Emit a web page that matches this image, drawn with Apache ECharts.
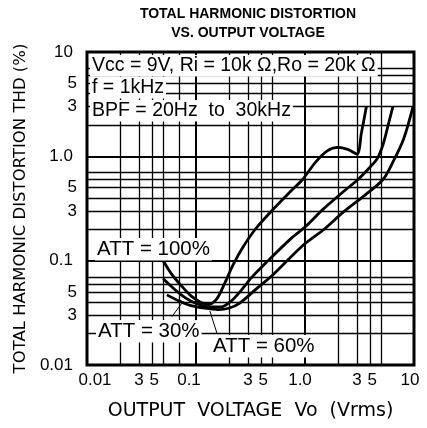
<!DOCTYPE html>
<html>
<head>
<meta charset="utf-8">
<script src="https://cdn.jsdelivr.net/npm/echarts@6/dist/echarts.min.js"></script>
<style>
  html, body { margin: 0; padding: 0; background: #fff; }
  #chart { width: 427px; height: 428px; }
</style>
</head>
<body>
<div id="chart"></div>
<script>
// tick labels (log-log, both axes 0.01 .. 10)
const xLabelValues = [0.01, 0.03, 0.05, 0.1, 0.3, 0.5, 1, 3, 5, 10];
const xLabelTexts = ['0.01', '3', '5', '0.1', '3', '5', '1.0', '3', '5', '10'];
const yLabelValues = [0.01, 0.03, 0.05, 0.1, 0.3, 0.5, 1, 3, 5, 10];
const yLabelTexts = ['0.01', '3', '5', '0.1', '3', '5', '1.0', '3', '5', '10'];

// grid lines
const decadeLines = [0.1, 1];
const xMinorLines = [0.02, 0.03, 0.04, 0.05, 0.07, 0.2, 0.3, 0.4, 0.5, 2, 3, 4, 5];
const yMinorLines = [0.02, 0.03, 0.04, 0.05, 0.06, 0.07, 0.2, 0.3, 0.4, 0.5, 0.6, 0.7, 2, 3, 4, 5, 6, 7];

// curves [Vo (Vrms), THD (%)]
const att100 = [[0.05, 0.1], [0.06, 0.074], [0.075, 0.056], [0.09, 0.046], [0.11, 0.04], [0.13, 0.038],
  [0.155, 0.043], [0.185, 0.062], [0.22, 0.092], [0.27, 0.135], [0.35, 0.2], [0.48, 0.29], [0.72, 0.45],
  [0.95, 0.6], [1.25, 0.88], [1.6, 1.13], [2.0, 1.22], [2.5, 1.16], [3.0, 1.05], [3.3, 1.7], [3.66, 3.0]];
const att60 = [[0.05, 0.067], [0.065, 0.052], [0.08, 0.044], [0.1, 0.039], [0.13, 0.036], [0.17, 0.036],
  [0.21, 0.041], [0.26, 0.052], [0.32, 0.068], [0.45, 0.098], [0.73, 0.16], [1.0, 0.21], [1.46, 0.31],
  [2.2, 0.45], [3.06, 0.6], [4.0, 0.8], [4.6, 0.95], [5.2, 1.3], [5.8, 2.0], [6.4, 3.0]];
const att30 = [[0.054, 0.047], [0.07, 0.041], [0.09, 0.037], [0.12, 0.035], [0.16, 0.034], [0.2, 0.035],
  [0.25, 0.039], [0.36, 0.054], [0.5, 0.072], [0.95, 0.139], [1.5, 0.2], [2.23, 0.29], [3.5, 0.42],
  [5.2, 0.6], [6.4, 0.88], [8.0, 1.45], [9.8, 3.0]];

// leader lines from the ATT labels to the curves
const leader30 = [[0.06, 0.029], [0.074, 0.039]];
const leader60 = [[0.156, 0.02], [0.134, 0.033]];

const FONT = 'DejaVu Sans';
const TICK_FONT = 'Liberation Sans';

function labelFor(values, texts, v) {
  for (let i = 0; i < values.length; i++) {
    if (Math.abs(Math.log10(v) - Math.log10(values[i])) < 1e-6) return texts[i];
  }
  return '';
}

// the printed x labels sit a little left of their grid lines
const xShift = { '0.01': 'f', '5': 'five', '0.1': 'tenth', '1.0': 'one', '10': 'ten' };
const tickRich = (pad) => ({ padding: pad, color: '#000', fontFamily: TICK_FONT, fontSize: 17 });

const gridLines = [];
decadeLines.forEach(v => {
  gridLines.push({ xAxis: v, lineStyle: { width: 2 } });
  gridLines.push({ yAxis: v, lineStyle: { width: 2 } });
});
xMinorLines.forEach(v => gridLines.push({ xAxis: v, lineStyle: { width: 1.3 } }));
yMinorLines.forEach(v => gridLines.push({ yAxis: v, lineStyle: { width: 1.3 } }));
gridLines.push([{ coord: leader30[0], lineStyle: { width: 1 } }, { coord: leader30[1] }]);
gridLines.push([{ coord: leader60[0], lineStyle: { width: 1 } }, { coord: leader60[1] }]);

const curveStyle = { color: '#000', width: 2.8 };

// boxed notes inside the plot (white box hides the grid behind the text)
function note(text, left, top, size) {
  return {
    text: text, left: left, top: top, padding: [0, 2], backgroundColor: '#fff',
    textStyle: { fontFamily: TICK_FONT, fontSize: size, fontWeight: 'normal', color: '#000', lineHeight: size + 2 }
  };
}

const chart = echarts.init(document.getElementById('chart'));
chart.setOption({
  animation: false,
  backgroundColor: '#fff',
  title: [
    note('Vcc = 9V, Ri = 10k Ω,Ro = 20k Ω', 90, 55, 19.5),
    note('f = 1kHz', 90, 77, 19.5),
    note('BPF = 20Hz  to  30kHz', 90, 100, 19.5),
    note('ATT = 100%', 95, 238, 20.5),
    note('ATT = 30%', 96, 320, 20.5),
    note('ATT = 60%', 211, 335, 20.5)
  ],
  grid: { left: 87, right: 13, top: 52, bottom: 63, show: true, borderColor: '#000', borderWidth: 3 },
  xAxis: {
    type: 'log', logBase: 10, min: 0.01, max: 10,
    axisLine: { show: false }, axisTick: { show: false }, splitLine: { show: false },
    axisLabel: {
      customValues: xLabelValues,
      margin: 7,
      color: '#000', fontFamily: TICK_FONT, fontSize: 17,
      formatter: v => {
        const t = labelFor(xLabelValues, xLabelTexts, v);
        return xShift[t] ? '{' + xShift[t] + '|' + t + '}' : t;
      },
      rich: {
        f: tickRich([0, 0, 0, 16]),
        five: tickRich([0, 18, 0, 0]),
        tenth: tickRich([0, 14, 0, 0]),
        one: tickRich([0, 10, 0, 0]),
        ten: tickRich([0, 8, 0, 0])
      }
    },
    name: 'OUTPUT  VOLTAGE  Vo  (Vrms)',
    nameLocation: 'middle', nameGap: 37,
    nameTextStyle: { color: '#000', fontFamily: FONT, fontSize: 19 }
  },
  yAxis: {
    type: 'log', logBase: 10, min: 0.01, max: 10,
    axisLine: { show: false }, axisTick: { show: false }, splitLine: { show: false },
    axisLabel: {
      customValues: yLabelValues,
      margin: 10,
      color: '#000', fontFamily: TICK_FONT, fontSize: 17,
      formatter: v => {
        const t = labelFor(yLabelValues, yLabelTexts, v);
        return t.length > 1 ? '{d|' + t + '}' : t;
      },
      rich: { d: tickRich([0, 4, 0, 0]) }
    },
    name: 'TOTAL HARMONIC DISTORTION THD (%)',
    nameLocation: 'middle', nameGap: 52, nameRotate: 90,
    nameTextStyle: { color: '#000', fontFamily: FONT, fontSize: 16.5 }
  },
  graphic: [
    {
      type: 'text', x: 248, y: 24,
      style: {
        text: 'TOTAL HARMONIC DISTORTION\nVS. OUTPUT VOLTAGE',
        textAlign: 'center', textVerticalAlign: 'middle', lineHeight: 19,
        font: 'bold 14px "Liberation Sans"', fill: '#000'
      }
    }
  ],
  series: [
    {
      name: 'grid', type: 'line', data: [], z: 1, silent: true,
      markLine: {
        silent: true, symbol: 'none', label: { show: false },
        lineStyle: { color: '#000', type: 'solid' },
        data: gridLines
      }
    },
    { name: 'ATT = 100%', type: 'line', data: att100, smooth: 0.3, showSymbol: false, z: 5, lineStyle: curveStyle },
    { name: 'ATT = 60%', type: 'line', data: att60, smooth: 0.3, showSymbol: false, z: 5, lineStyle: curveStyle },
    { name: 'ATT = 30%', type: 'line', data: att30, smooth: 0.3, showSymbol: false, z: 5, lineStyle: curveStyle }
  ]
});
</script>
</body>
</html>
